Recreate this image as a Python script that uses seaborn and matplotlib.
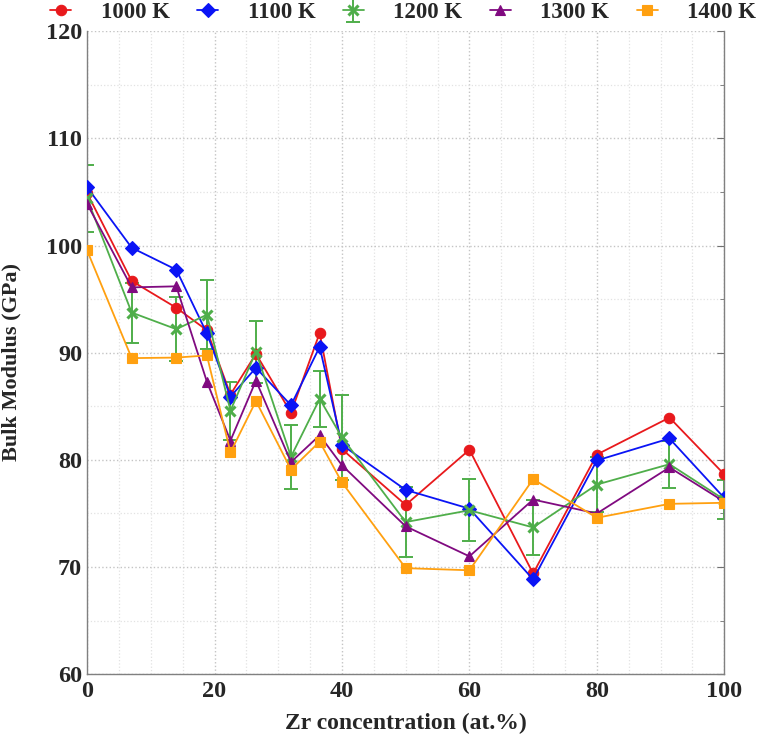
import numpy as np
import pandas as pd
import matplotlib
matplotlib.use("Agg")
import matplotlib.pyplot as plt
from matplotlib.legend_handler import HandlerTuple
from matplotlib.ticker import MultipleLocator
import seaborn as sns

# Zr content of each composition (at.%)
zr = [0, 7, 14, 18.8, 22.5, 26.5, 32, 36.5, 40, 50, 60, 70, 80, 91.4, 100]

# Bulk modulus (GPa) at each temperature
k1000 = [104.9, 96.7, 94.2, 92.1, 86.1, 89.9, 84.4, 91.85, 81.0, 75.8, 80.95, 69.4, 80.5, 83.95, 78.65]
k1100 = [105.45, 99.8, 97.75, 91.8, 85.9, 88.6, 85.1, 90.55, 81.4, 77.2, 75.45, 68.85, 79.95, 82.0, 76.45]
k1200 = [104.4, 93.75, 92.2, 93.55, 84.6, 90.1, 80.3, 85.7, 82.1, 74.2, 75.3, 73.7, 77.7, 79.6, 76.3]
err1200 = [3.1, 2.8, 3.0, 3.2, 2.7, 2.9, 3.0, 2.6, 4.0, 3.3, 2.9, 2.6, 2.6, 2.2, 1.8]
k1300 = [103.9, 96.1, 96.2, 87.3, 81.8, 87.4, 79.8, 82.3, 79.5, 73.8, 71.0, 76.3, 75.0, 79.3, 76.1]
k1400 = [99.55, 89.5, 89.55, 89.75, 80.7, 85.5, 79.1, 81.7, 77.9, 69.9, 69.7, 78.2, 74.6, 75.9, 76.0]

temps = ["1000 K", "1100 K", "1200 K", "1300 K", "1400 K"]
series = [k1000, k1100, k1200, k1300, k1400]

df = pd.concat(
    [pd.DataFrame({"zr": zr, "B": vals, "T": t}) for t, vals in zip(temps, series)],
    ignore_index=True,
)

sns.set_style("white")
plt.rcParams["font.family"] = ["Liberation Serif", "DejaVu Serif"]
plt.rcParams["font.weight"] = "bold"

palette = {"1000 K": "#e8191c", "1100 K": "#0a14f5", "1200 K": "#4fae4a",
           "1300 K": "#800a80", "1400 K": "#ffa010"}
markers = {"1000 K": "o", "1100 K": "D", "1200 K": "x", "1300 K": "^", "1400 K": "s"}
msize = {"1000 K": 7.5, "1100 K": 7, "1200 K": 7.5, "1300 K": 6.5, "1400 K": 7}

fig = plt.figure(figsize=(7.64, 7.45), dpi=100)
ax = fig.add_axes([0.114, 0.095, 0.834, 0.863])

for t in temps:
    sub = df[df["T"] == t]
    sns.lineplot(data=sub, x="zr", y="B", color=palette[t], marker=markers[t],
                 markersize=msize[t], markeredgewidth=2.2 if t == "1200 K" else 0.8,
                 markeredgecolor=palette[t], linewidth=1.3, label=t, ax=ax,
                 zorder=3)

eb = ax.errorbar(zr, k1200, yerr=err1200, fmt="none", ecolor=palette["1200 K"],
                 elinewidth=1.4, capsize=5, capthick=1.4, zorder=2)

ax.set_xlim(0, 100)
ax.set_ylim(60, 120)
ax.xaxis.set_major_locator(MultipleLocator(20))
ax.xaxis.set_minor_locator(MultipleLocator(5))
ax.yaxis.set_major_locator(MultipleLocator(10))
ax.yaxis.set_minor_locator(MultipleLocator(5))
ax.grid(which="major", color="#c4c4c4", linestyle=":", linewidth=1.0)
ax.grid(which="minor", color="#e2e2e2", linestyle=":", linewidth=0.9)
ax.set_axisbelow(True)

ax.tick_params(which="both", direction="in", top=False, right=True,
               color="#707070", labelsize=17.5)
ax.tick_params(which="major", length=5)
ax.tick_params(which="minor", length=3)
ax.tick_params(axis="x", pad=5)
for lab in ax.get_xticklabels() + ax.get_yticklabels():
    lab.set_fontweight("bold")
for s in ax.spines.values():
    s.set_color("#808080")
    s.set_linewidth(1.0)
ax.spines["top"].set_visible(False)

ax.set_xlabel("Zr concentration (at.%)", fontsize=17, fontweight="bold", labelpad=8)
ax.set_ylabel("Bulk Modulus (GPa)", fontsize=16, fontweight="bold", labelpad=10)
ax.yaxis.set_label_coords(-0.103, 0.485)

handles, labels = ax.get_legend_handles_labels()
if ax.get_legend():
    ax.get_legend().remove()
idx = labels.index("1200 K")
handles[idx] = (eb, handles[idx])
fig.legend(handles, labels, loc="center", bbox_to_anchor=(0.528, 0.983),
           ncol=5, frameon=False, columnspacing=1.2,
           handlelength=0.9, handletextpad=1.3, borderpad=0.1,
           handler_map={tuple: HandlerTuple(ndivide=1, pad=0)},
           prop={"weight": "bold", "size": 16.5})

fig.savefig("out.png", dpi=100)
